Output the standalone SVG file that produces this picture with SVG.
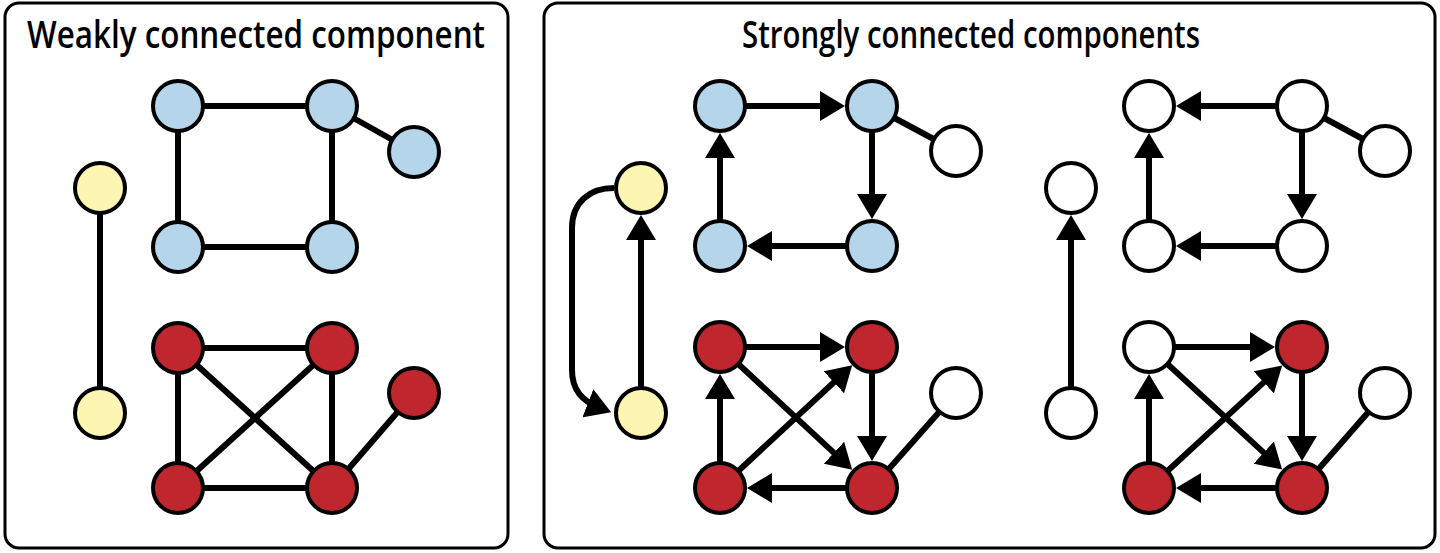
<svg xmlns="http://www.w3.org/2000/svg" width="1440" height="553" viewBox="0 0 1440 553">
<style>
.panel{fill:#fff;stroke:#000;stroke-width:3}
.title{font-family:"Open Sans","Liberation Sans",Arial,sans-serif;font-weight:600;font-size:38px;fill:#000;text-anchor:middle}
.e{stroke:#000;stroke-width:6;fill:none}
.a{stroke:#000;stroke-width:6;fill:none;marker-end:url(#arr)}
.n{stroke:#000;stroke-width:4}
.blue{fill:#b4d5ea}
.yellow{fill:#fdf5b2}
.red{fill:#c0262e}
.white{fill:#fff}
</style>
<defs>
<marker id="arr" markerUnits="userSpaceOnUse" viewBox="0 0 25 30" refX="13" refY="15" markerWidth="25" markerHeight="30" orient="auto">
<path d="M0,0 L25,15 L0,30 z" fill="#000"/>
</marker>
</defs>
<rect width="1440" height="553" fill="#fff"/>
<g id="panel-weak">
<rect class="panel" x="5" y="3" width="503" height="545" rx="14"/>
<text class="title" x="256" y="48" textLength="458" lengthAdjust="spacingAndGlyphs">Weakly connected component</text>
</g>
<g id="panel-strong">
<rect class="panel" x="544" y="3" width="891" height="545" rx="14"/>
<text class="title" x="971" y="48" textLength="458" lengthAdjust="spacingAndGlyphs">Strongly connected components</text>
</g>
<g id="connectors">
<!-- weak panel -->
<line class="e" x1="178" y1="106" x2="332" y2="106"/>
<line class="e" x1="178" y1="106" x2="178" y2="247"/>
<line class="e" x1="332" y1="106" x2="332" y2="247"/>
<line class="e" x1="178" y1="247" x2="332" y2="247"/>
<line class="e" x1="332" y1="106" x2="414" y2="152"/>
<line class="e" x1="100" y1="188" x2="100" y2="413"/>
<line class="e" x1="178" y1="348" x2="332" y2="348"/>
<line class="e" x1="178" y1="348" x2="178" y2="488"/>
<line class="e" x1="332" y1="348" x2="332" y2="488"/>
<line class="e" x1="178" y1="488" x2="332" y2="488"/>
<line class="e" x1="178" y1="348" x2="332" y2="488"/>
<line class="e" x1="178" y1="488" x2="332" y2="348"/>
<line class="e" x1="332" y1="488" x2="414" y2="393"/>
<!-- strong panel, middle graph -->
<line class="a" x1="720" y1="106" x2="833" y2="106"/>
<line class="a" x1="872" y1="106" x2="872" y2="207"/>
<line class="a" x1="872" y1="246" x2="759" y2="246"/>
<line class="a" x1="720" y1="246" x2="720" y2="145"/>
<line class="e" x1="872" y1="106" x2="956" y2="151"/>
<line class="a" x1="641" y1="413" x2="641" y2="227"/>
<path class="a" d="M614,188 C590,188 572,202 572,228 L572,370 C572,390 582,401 600,408"/>
<line class="a" x1="720" y1="347" x2="833" y2="347"/>
<line class="a" x1="872" y1="347" x2="872" y2="449"/>
<line class="a" x1="872" y1="488" x2="759" y2="488"/>
<line class="a" x1="720" y1="488" x2="720" y2="386"/>
<line class="a" x1="720" y1="347" x2="843.4" y2="461.6"/>
<line class="a" x1="720" y1="488" x2="843.4" y2="373.5"/>
<line class="e" x1="872" y1="488" x2="956" y2="393"/>
<!-- strong panel, right graph -->
<line class="a" x1="1302" y1="106" x2="1188" y2="106"/>
<line class="a" x1="1302" y1="106" x2="1302" y2="207"/>
<line class="a" x1="1302" y1="246" x2="1188" y2="246"/>
<line class="a" x1="1149" y1="246" x2="1149" y2="145"/>
<line class="e" x1="1302" y1="106" x2="1385" y2="151"/>
<line class="a" x1="1071" y1="413" x2="1071" y2="227"/>
<line class="a" x1="1149" y1="347" x2="1263" y2="347"/>
<line class="a" x1="1302" y1="347" x2="1302" y2="449"/>
<line class="a" x1="1302" y1="488" x2="1188" y2="488"/>
<line class="a" x1="1149" y1="488" x2="1149" y2="386"/>
<line class="a" x1="1149" y1="347" x2="1273.3" y2="461.4"/>
<line class="a" x1="1149" y1="488" x2="1273.3" y2="373.6"/>
<line class="e" x1="1302" y1="488" x2="1385" y2="393"/>
</g>
<g id="w-a"><circle class="n blue" cx="178" cy="106" r="25"/></g>
<g id="w-b"><circle class="n blue" cx="332" cy="106" r="25"/></g>
<g id="w-c"><circle class="n blue" cx="414" cy="152" r="25"/></g>
<g id="w-d"><circle class="n blue" cx="178" cy="247" r="25"/></g>
<g id="w-e"><circle class="n blue" cx="332" cy="247" r="25"/></g>
<g id="w-y1"><circle class="n yellow" cx="100" cy="188" r="25"/></g>
<g id="w-y2"><circle class="n yellow" cx="100" cy="413" r="25"/></g>
<g id="w-p"><circle class="n red" cx="178" cy="348" r="25"/></g>
<g id="w-q"><circle class="n red" cx="332" cy="348" r="25"/></g>
<g id="w-r"><circle class="n red" cx="414" cy="393" r="25"/></g>
<g id="w-s"><circle class="n red" cx="178" cy="488" r="25"/></g>
<g id="w-t"><circle class="n red" cx="332" cy="488" r="25"/></g>
<g id="m-a"><circle class="n blue" cx="720" cy="106" r="25"/></g>
<g id="m-b"><circle class="n blue" cx="872" cy="106" r="25"/></g>
<g id="m-c"><circle class="n white" cx="956" cy="151" r="25"/></g>
<g id="m-d"><circle class="n blue" cx="720" cy="246" r="25"/></g>
<g id="m-e"><circle class="n blue" cx="872" cy="246" r="25"/></g>
<g id="m-y1"><circle class="n yellow" cx="641" cy="188" r="25"/></g>
<g id="m-y2"><circle class="n yellow" cx="641" cy="413" r="25"/></g>
<g id="m-p"><circle class="n red" cx="720" cy="347" r="25"/></g>
<g id="m-q"><circle class="n red" cx="872" cy="347" r="25"/></g>
<g id="m-r"><circle class="n white" cx="956" cy="393" r="25"/></g>
<g id="m-s"><circle class="n red" cx="720" cy="488" r="25"/></g>
<g id="m-t"><circle class="n red" cx="872" cy="488" r="25"/></g>
<g id="r-a"><circle class="n white" cx="1149" cy="106" r="25"/></g>
<g id="r-b"><circle class="n white" cx="1302" cy="106" r="25"/></g>
<g id="r-c"><circle class="n white" cx="1385" cy="151" r="25"/></g>
<g id="r-d"><circle class="n white" cx="1149" cy="246" r="25"/></g>
<g id="r-e"><circle class="n white" cx="1302" cy="246" r="25"/></g>
<g id="r-y1"><circle class="n white" cx="1071" cy="188" r="25"/></g>
<g id="r-y2"><circle class="n white" cx="1071" cy="413" r="25"/></g>
<g id="r-p"><circle class="n white" cx="1149" cy="347" r="25"/></g>
<g id="r-q"><circle class="n red" cx="1302" cy="347" r="25"/></g>
<g id="r-r"><circle class="n white" cx="1385" cy="393" r="25"/></g>
<g id="r-s"><circle class="n red" cx="1149" cy="488" r="25"/></g>
<g id="r-t"><circle class="n red" cx="1302" cy="488" r="25"/></g>
</svg>
